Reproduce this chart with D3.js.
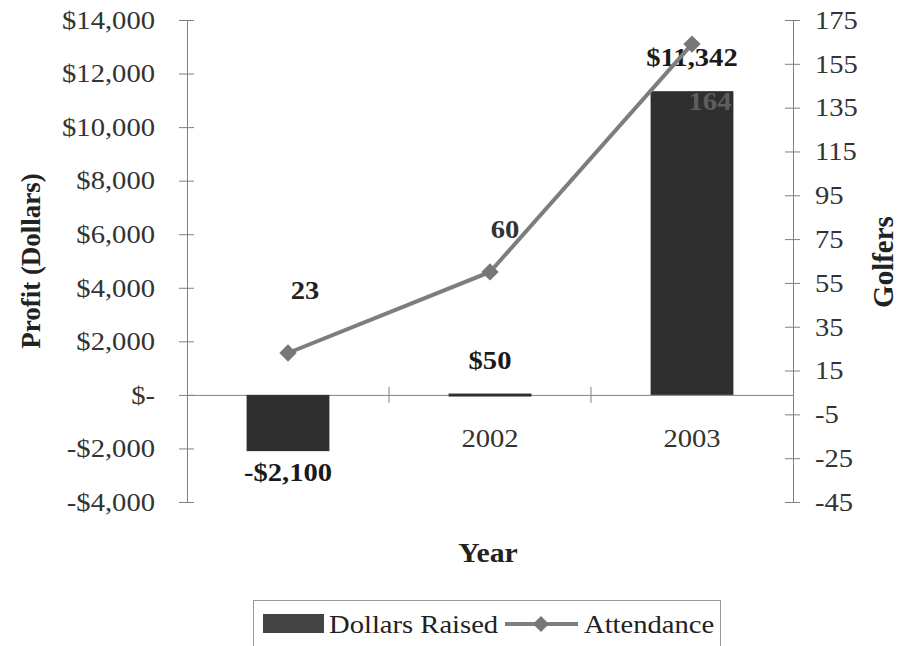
<!DOCTYPE html>
<html>
<head>
<meta charset="utf-8">
<script src="https://cdn.jsdelivr.net/npm/d3@7"></script>
<style>
  body { margin: 0; background: #fff; }
  svg text { font-family: "Liberation Serif", "Times New Roman", serif; }
</style>
</head>
<body>
<svg id="chart" width="902" height="646"></svg>
<script>
// chart data
var years = ["2001", "2002", "2003"];
var dollars_raised = [-2100, 50, 11342];
var dollar_labels = ["-$2,100", "$50", "$11,342"];
var attendance = [23, 60, 164];
var attendance_labels = ["23", "60", "164"];
var left_ticks = [-4000, -2000, 0, 2000, 4000, 6000, 8000, 10000, 12000, 14000];
var right_ticks = [-45, -25, -5, 15, 35, 55, 75, 95, 115, 135, 155, 175];

var SX = 1.1; // the scanned text looks a bit wide
var bar_color = "#2f2f2f",
    line_color = "#7d7d7d";

var svg = d3.select("#chart");
var plot_left = 187, plot_right = 793, plot_top = 20, plot_bottom = 502;

var x = d3.scaleBand().domain(years).range([plot_left, plot_right]).padding(0);
var y_left = d3.scaleLinear().domain([-4000, 14000]).range([plot_bottom, plot_top]);
var y_right = d3.scaleLinear().domain([-45, 175]).range([plot_bottom, plot_top]);
var bar_w = x.bandwidth() * 0.41;

function money(v) {
    if (v === 0) return "$-";
    return (v < 0 ? "-" : "") + "$" + d3.format(",")(Math.abs(v));
}

function stretch(sel) {
    sel.each(function() {
        var t = d3.select(this);
        var tx = +t.attr("x") || 0, ty = +t.attr("y") || 0;
        t.attr("transform", "translate(" + tx + "," + ty + ") scale(" + SX + ",1) translate(" + (-tx) + "," + (-ty) + ")");
    });
}

// left axis
var ax_left = svg.append("g")
    .attr("transform", "translate(" + plot_left + ",0)")
    .call(d3.axisLeft(y_left).tickValues(left_ticks).tickFormat(money).tickSize(0).tickPadding(32));
ax_left.select(".domain").attr("stroke", "#808080");
ax_left.selectAll(".tick line").attr("x1", -8).attr("x2", 7).attr("stroke", "#808080");
ax_left.selectAll("text").attr("font-size", 26).attr("fill", "#333").attr("font-family", null);

// right axis
var ax_right = svg.append("g")
    .attr("transform", "translate(" + plot_right + ",0)")
    .call(d3.axisRight(y_right).tickValues(right_ticks)
        .tickFormat(function(v) { return String(v); })
        .tickSize(0).tickPadding(22));
ax_right.select(".domain").attr("stroke", "#808080");
ax_right.selectAll(".tick line").attr("x1", -8).attr("x2", 7).attr("stroke", "#808080");
ax_right.selectAll("text").attr("font-size", 26).attr("fill", "#333").attr("font-family", null);

// category axis along $0
var y0 = y_left(0);
var ax_x = svg.append("g")
    .attr("transform", "translate(0," + y0 + ")")
    .call(d3.axisBottom(x).tickSize(0).tickPadding(34));
ax_x.select(".domain").attr("stroke", "#808080");
ax_x.selectAll("text").attr("font-size", 26).attr("fill", "#333").attr("font-family", null);
svg.append("g").selectAll("line")
    .data(years.slice(1))
    .enter().append("line")
    .attr("x1", function(d) { return x(d); })
    .attr("x2", function(d) { return x(d); })
    .attr("y1", y0 - 8).attr("y2", y0 + 8)
    .attr("stroke", "#808080");

stretch(svg.selectAll("g.tick text"));

// bars
svg.append("g").selectAll("rect")
    .data(dollars_raised)
    .enter().append("rect")
    .attr("x", function(d, i) { return x(years[i]) + x.bandwidth() / 2 - bar_w / 2; })
    .attr("y", function(d) { return Math.min(y_left(d), y0); })
    .attr("width", bar_w)
    .attr("height", function(d) { return Math.max(Math.abs(y_left(d) - y0), 3); })
    .attr("fill", bar_color);

// attendance labels, drawn under the line (the last one sits on the 2003 bar)
var att_offset = [-54, -34, 66];
var att_dx = [17, 15, 18];
var att_color = ["#222", "#333", "#5e5e5e"];
var att_text = svg.append("g").selectAll("text")
    .data(attendance)
    .enter().append("text")
    .attr("x", function(d, i) { return x(years[i]) + x.bandwidth() / 2 + att_dx[i]; })
    .attr("y", function(d, i) { return y_right(d) + att_offset[i]; })
    .attr("text-anchor", "middle")
    .attr("font-size", 26)
    .attr("font-weight", "bold")
    .attr("fill", function(d, i) { return att_color[i]; })
    .text(function(d, i) { return attendance_labels[i]; });
stretch(att_text);

// bar labels
var bar_label_y = [30, -25, -25];
var bar_text = svg.append("g").selectAll("text")
    .data(dollars_raised)
    .enter().append("text")
    .attr("x", function(d, i) { return x(years[i]) + x.bandwidth() / 2; })
    .attr("y", function(d, i) { return (d < 0 ? y_left(d) : Math.min(y_left(d), y0)) + bar_label_y[i]; })
    .attr("text-anchor", "middle")
    .attr("font-size", 26)
    .attr("font-weight", "bold")
    .attr("fill", "#1a1a1a")
    .text(function(d, i) { return dollar_labels[i]; });
stretch(bar_text);

// attendance line
var line = d3.line()
    .x(function(d, i) { return x(years[i]) + x.bandwidth() / 2; })
    .y(function(d) { return y_right(d); });
svg.append("path")
    .datum(attendance)
    .attr("d", line)
    .attr("fill", "none")
    .attr("stroke", line_color)
    .attr("stroke-width", 4);
svg.append("g").selectAll("path")
    .data(attendance)
    .enter().append("path")
    .attr("d", d3.symbol().type(d3.symbolSquare).size(150))
    .attr("transform", function(d, i) {
        return "translate(" + (x(years[i]) + x.bandwidth() / 2) + "," + y_right(d) + ") rotate(45)";
    })
    .attr("fill", "#777");

// axis titles
svg.append("text")
    .attr("transform", "translate(40,261) rotate(-90)")
    .attr("text-anchor", "middle")
    .attr("font-size", 27)
    .attr("font-weight", "bold")
    .attr("fill", "#222")
    .text("Profit (Dollars)");
svg.append("text")
    .attr("transform", "translate(893,262) rotate(-90)")
    .attr("text-anchor", "middle")
    .attr("font-size", 29)
    .attr("font-weight", "bold")
    .attr("fill", "#222")
    .text("Golfers");
var year_title = svg.append("text")
    .attr("x", 488).attr("y", 562)
    .attr("text-anchor", "middle")
    .attr("font-size", 27)
    .attr("font-weight", "bold")
    .attr("fill", "#222")
    .text("Year");
stretch(year_title);

// legend
var legend = svg.append("g");
legend.append("rect")
    .attr("x", 253.5).attr("y", 600.5)
    .attr("width", 467).attr("height", 60)
    .attr("fill", "#fff").attr("stroke", "#999");
legend.append("rect")
    .attr("x", 263).attr("y", 614)
    .attr("width", 61).attr("height", 19)
    .attr("fill", "#444");
legend.append("line")
    .attr("x1", 505).attr("x2", 578).attr("y1", 624).attr("y2", 624)
    .attr("stroke", line_color).attr("stroke-width", 4);
legend.append("path")
    .attr("d", d3.symbol().type(d3.symbolSquare).size(130))
    .attr("transform", "translate(541,624) rotate(45)")
    .attr("fill", "#777");
var legend_text = legend.selectAll("text.lg")
    .data([["Dollars Raised", 329], ["Attendance", 584]])
    .enter().append("text")
    .attr("class", "lg")
    .attr("x", function(d) { return d[1]; })
    .attr("y", 633)
    .attr("font-size", 26)
    .attr("fill", "#222")
    .text(function(d) { return d[0]; });
stretch(legend_text);
</script>
</body>
</html>
